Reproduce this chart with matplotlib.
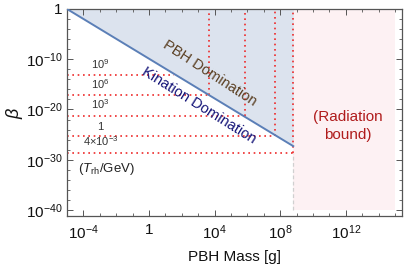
import numpy as np
import matplotlib
matplotlib.use("Agg")
import matplotlib.pyplot as plt
from matplotlib.ticker import FixedLocator, FixedFormatter

plt.rcParams['font.family'] = ['Liberation Sans', 'DejaVu Sans']
plt.rcParams['mathtext.fontset'] = 'custom'
plt.rcParams['mathtext.rm'] = 'Liberation Sans'
plt.rcParams['mathtext.it'] = 'Liberation Sans:italic'

# ---- data ----
boundary_M = [1e-5, 10**8.8]          # kination / PBH domination boundary
boundary_beta = [1.0, 10**-27.3]
rad_bound_M = 10**8.8                  # radiation bound (left edge)
rad_region_M_max = 1e15
rad_region_beta = [1e-40, 1.0]

trh_labels = [r"$10^9$", r"$10^6$", r"$10^3$", r"$1$", r"$4{\times}10^{-3}$"]
trh_beta = [10**-13.2, 10**-17.2, 10**-21.3, 10**-25.3, 10**-28.6]
trh_M_end = [10**1.5, 10**3.67, 10**5.87, 10**7.66, 10**8.8]
trh_has_vertical = [False, True, True, True, True]

xtick_vals = [1e-4, 1, 1e4, 1e8, 1e12]
xtick_labels = [r"$10^{-4}$", r"$1$", r"$10^{4}$", r"$10^{8}$", r"$10^{12}$"]
ytick_vals = [1e-40, 1e-30, 1e-20, 1e-10, 1]
ytick_labels = [r"$10^{-40}$", r"$10^{-30}$", r"$10^{-20}$", r"$10^{-10}$", r"$1$"]

xlim = (1e-5, 10**15.4)
ylim = (10**-41.2, 1.0)

# ---- figure ----
fig = plt.figure(figsize=(4.07, 2.70), dpi=100)
ax = fig.add_axes([67/407, 1-216/270, (401.5-67)/407, (216-9)/270])
ax.set_xscale('log')
ax.set_yscale('log')
ax.set_xlim(*xlim)
ax.set_ylim(*ylim)

# radiation bound region
ax.fill_between([rad_bound_M, rad_region_M_max], rad_region_beta[0], rad_region_beta[1],
                color='#fdf1f3', lw=0, zorder=0)
# PBH domination region
ax.fill_between(boundary_M, boundary_beta, [ylim[1], ylim[1]],
                color='#dce3ee', lw=0, zorder=0)
ax.plot(boundary_M, boundary_beta, color='#5b7fb7', lw=1.4, zorder=3)

red = '#ee2a2a'
for lab, b, me, hv in zip(trh_labels, trh_beta, trh_M_end, trh_has_vertical):
    ax.plot([xlim[0], me], [b, b], color=red, ls=(0, (1, 2.2)), lw=1.2, zorder=2)
    if hv:
        ax.plot([me, me], [b, ylim[1]], color=red, ls=(0, (1, 2.2)), lw=1.2, zorder=2)
    ax.text(10**-2.95, b * 10**0.9, lab, fontsize=8, ha='center', va='bottom',
            color='#333333')

# gray dashed continuation of radiation bound edge
ax.plot([rad_bound_M, rad_bound_M], [rad_region_beta[0], trh_beta[-1]],
        color='#d0d0d0', ls=(0, (3, 2)), lw=0.9, zorder=1)

ax.text(10**-2.6, 10**-31.8, r"($T_{\rm rh}$/GeV)", fontsize=9.5, ha='center',
        va='center', color='#222222')

ax.text(10**3.7, 10**-12.8, "PBH Domination", fontsize=10.5, rotation=-33,
        ha='center', va='center', color='#5a3f22', rotation_mode='anchor')
ax.text(10**3.05, 10**-19.3, "Kination Domination", fontsize=10.5, rotation=-32,
        ha='center', va='center', color='#141478', rotation_mode='anchor')
ax.text(10**12.1, 10**-23.3, "(Radiation\nbound)", fontsize=11, ha='center',
        va='center', color='#b01c1c', linespacing=1.35)

# ticks
ax.xaxis.set_major_locator(FixedLocator(xtick_vals))
ax.xaxis.set_major_formatter(FixedFormatter(xtick_labels))
ax.yaxis.set_major_locator(FixedLocator(ytick_vals))
ax.yaxis.set_major_formatter(FixedFormatter(ytick_labels))
ax.xaxis.set_minor_locator(FixedLocator([10.0**k for k in range(-5, 16)]))
ax.yaxis.set_minor_locator(FixedLocator([10.0**k for k in range(-42, 1, 2)]))
ax.xaxis.set_minor_formatter(FixedFormatter([]))
ax.yaxis.set_minor_formatter(FixedFormatter([]))
ax.tick_params(which='both', direction='in', top=True, right=True,
               color='#555555', labelsize=11, labelcolor='#111111')
ax.tick_params(which='major', length=4, width=0.7)
ax.tick_params(which='minor', length=2, width=0.6)
ax.tick_params(axis='x', pad=5)
ax.tick_params(axis='y', pad=3)
for s in ax.spines.values():
    s.set_color('#555555')
    s.set_linewidth(0.9)

ax.set_xlabel("PBH Mass [g]", fontsize=11, color='#111111', labelpad=6)
ax.set_ylabel(r"$\beta$", fontsize=13, color='#111111', labelpad=1)

fig.savefig("out.png", dpi=100)
